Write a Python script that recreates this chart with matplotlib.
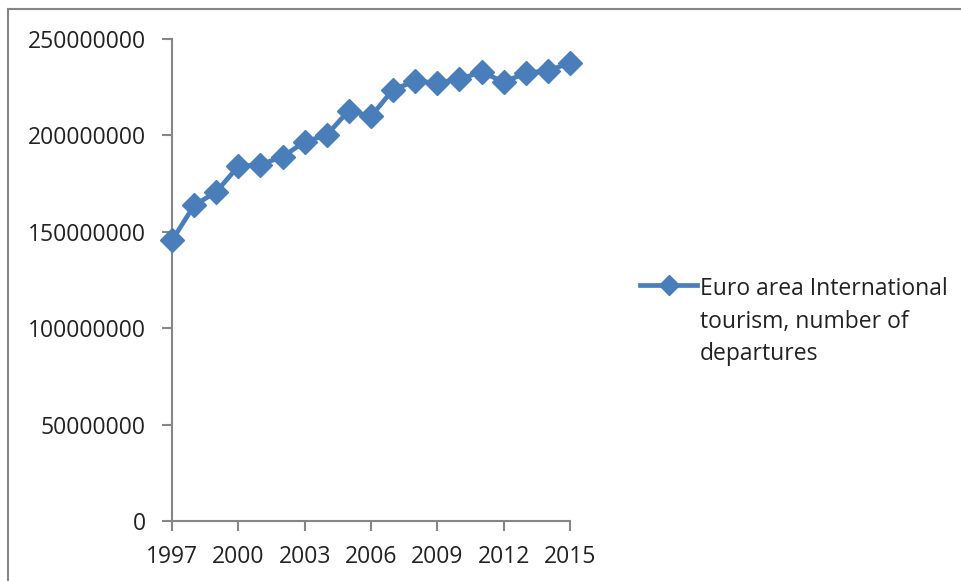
import matplotlib
matplotlib.use("Agg")
import matplotlib.pyplot as plt
from matplotlib.lines import Line2D

plt.rcParams["font.family"] = ["Open Sans", "DejaVu Sans"]

years = list(range(1997, 2016))
departures = [
    145.5e6, 163.7e6, 170.7e6, 184.0e6, 184.8e6, 189.0e6, 196.6e6,
    200.3e6, 212.9e6, 209.9e6, 223.8e6, 228.1e6, 227.3e6, 229.0e6,
    233.1e6, 227.6e6, 232.4e6, 233.5e6, 237.6e6,
]
series_label = "Euro area International\ntourism, number of\ndepartures"
xticks = [1997, 2000, 2003, 2006, 2009, 2012, 2015]
yticks = [0, 50000000, 100000000, 150000000, 200000000, 250000000]

LINE = "#4a7ebb"
AXIS = "#868686"
TEXT = "#222222"

W, H = 962, 581
fig = plt.figure(figsize=(W / 100, H / 100), dpi=100)
ax = fig.add_axes([172 / W, 1 - 521 / H, (570 - 172) / W, (521 - 39) / H])

ax.plot(years, departures, color=LINE, linewidth=3.4, marker="D",
        markersize=12.5, label=series_label, solid_joinstyle="round",
        clip_on=False, zorder=5)

ax.set_xlim(1997, 2015)
ax.set_ylim(0, 250000000)
ax.set_xticks(xticks)
ax.set_xticklabels([str(y) for y in xticks])
ax.set_yticks(yticks)
ax.set_yticklabels([str(v) for v in yticks])

for s in ["top", "right"]:
    ax.spines[s].set_visible(False)
for s in ["left", "bottom"]:
    ax.spines[s].set_color(AXIS)
    ax.spines[s].set_linewidth(1.5)
ax.tick_params(axis="both", colors=AXIS, width=1.5, length=7,
               labelcolor=TEXT, labelsize=16.5)
ax.tick_params(axis="y", pad=12)
ax.tick_params(axis="x", pad=10)

leg = fig.legend(loc="upper left", bbox_to_anchor=(640 / W, 1 - 277 / H),
                 frameon=False, fontsize=16.5, handlelength=2.5,
                 handletextpad=0.12, labelspacing=0.2, borderpad=0,
                 borderaxespad=0)
for t in leg.get_texts():
    t.set_color(TEXT)
    t.set_linespacing(1.48)
for h in leg.legend_handles:
    h.set_markersize(10.5)
# put the legend marker level with the first text line
for col in leg._legend_handle_box.get_children():
    for row in col.get_children():
        row.align = "top"

# outer chart border (top and left edges)
fig.add_artist(Line2D([8 / W, 8 / W], [0, 1 - 9 / H], color=AXIS, linewidth=1.5))
fig.add_artist(Line2D([8 / W, 1], [1 - 9 / H, 1 - 9 / H], color=AXIS, linewidth=1.5))

fig.savefig("out.png", dpi=100, facecolor="white")
